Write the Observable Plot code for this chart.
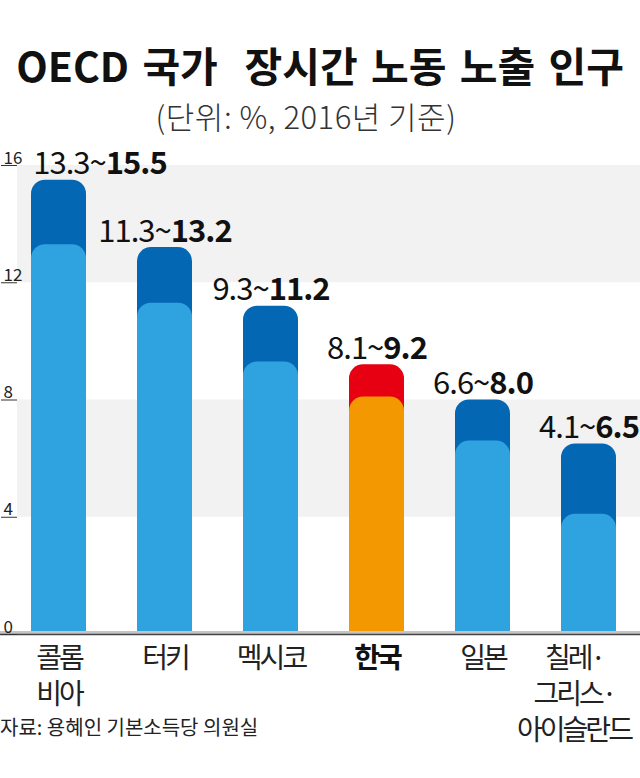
<!DOCTYPE html>
<html><head><meta charset="utf-8">
<script src="https://cdn.jsdelivr.net/npm/d3@7"></script>
<script src="https://cdn.jsdelivr.net/npm/@observablehq/plot@0.6"></script>
<style>
body{margin:0;background:#fff;font-family:"Noto Sans CJK KR","Noto Sans",sans-serif;width:640px;height:778px;position:relative;overflow:hidden}
#title{position:absolute;top:44px;left:0;width:640px;text-align:center;font-size:41px;line-height:1;font-weight:700;letter-spacing:0;word-spacing:4px;color:#111;white-space:pre;z-index:2}
#subtitle{position:absolute;top:99px;left:0;width:612px;text-align:center;font-size:31px;line-height:1.1;font-weight:300;color:#333;letter-spacing:0.5px;z-index:2}
#chart{position:absolute;top:128px;left:0;z-index:1}
#chart svg{background:transparent}
#caption{position:absolute;left:0;top:717px;font-size:20px;line-height:1;color:#222;letter-spacing:0;z-index:2}
</style>
</head><body>
<div id="title">OECD 국가  장시간 노동 노출 인구</div>
<div id="subtitle">(단위: %, 2016년 기준)</div>
<div id="chart"></div>
<div id="caption">자료: 용혜인 기본소득당 의원실</div>
<script>
const countries = ["콜롬\n비아", "터키", "멕시코", "한국", "일본", "칠레·\n그리스·\n아이슬란드"];
const lowValues = [13.3, 11.3, 9.3, 8.1, 6.6, 4.1];
const highValues = [15.5, 13.2, 11.2, 9.2, 8.0, 6.5];
const highlight = "한국";
const yTicks = [0, 4, 8, 12, 16];
const bandLows = [4, 12];
const bandHighs = [8, 16];

const colors = {low: "#2ea3df", high: "#0467b4", lowHi: "#f39800", highHi: "#e60012"};

const data = countries.map((c, i) => ({
  country: c, low: lowValues[i], high: highValues[i],
  label: `${lowValues[i].toFixed(1)}~${highValues[i].toFixed(1)}`
}));
const bands = bandLows.map((b, i) => ({y1: b, y2: bandHighs[i]}));
const font = "'Noto Sans CJK KR', 'Noto Sans', sans-serif";
const last = countries[countries.length - 1];

const catText = (filter, extra) => Plot.text(data, {filter, x: "country", text: "country", frameAnchor: "bottom",
  lineAnchor: "top", dy: 8, fontSize: 28, lineHeight: 1.29, fill: "#222", fontFamily: font, ...extra});

const chart = Plot.plot({
  width: 640,
  height: 624,
  marginTop: 37,
  marginBottom: 118,
  marginLeft: 17,
  marginRight: 0,
  style: {fontFamily: font, background: "transparent", color: "#222"},
  x: {domain: countries, range: [30, 618], paddingInner: 0.48, paddingOuter: 0, axis: null},
  y: {domain: [0, 16], axis: null},
  color: {type: "identity"},
  marks: [
    Plot.rectY(bands, {y1: "y1", y2: "y2", fill: "#f2f2f2"}),
    Plot.barY(data, {x: "country", y1: -2, y2: "high", rx: 14, clip: true,
      fill: d => d.country === highlight ? colors.highHi : colors.high}),
    Plot.barY(data, {x: "country", y1: -2, y2: "low", rx: 14, clip: true,
      fill: d => d.country === highlight ? colors.lowHi : colors.low}),
    Plot.ruleY([0], {stroke: "#c4c4c4", strokeWidth: 3, dy: -2, insetLeft: -17}),
    Plot.ruleY([0], {stroke: "#444", strokeWidth: 1.3, insetLeft: -17}),
    Plot.axisY({ticks: yTicks, tickSize: 16, tickFormat: () => "", stroke: "#333", strokeWidth: 1}),
    Plot.text(yTicks, {y: d => d, text: d => String(d), frameAnchor: "left", dx: -14, textAnchor: "start",
      lineAnchor: "bottom", dy: -2, fontSize: 17, fill: "#222", fontFamily: font}),
    Plot.text(data, {filter: (d, i) => i === 0, x: "country", y: "high", text: "label", dx: 41, dy: -6,
      lineAnchor: "bottom", fontSize: 31, fill: "#111", fontFamily: font}),
    Plot.text(data, {filter: (d, i) => i > 0, x: "country", y: "high", text: "label", dy: -6,
      lineAnchor: "bottom", fontSize: 31, fill: "#111", fontFamily: font}),
    catText(d => d.country !== highlight && d.country !== last, {}),
    catText(d => d.country === last, {dx: -15}),
    catText(d => d.country === highlight, {fill: "#111", fontWeight: "bold"})
  ]
});

// split value labels into regular + bold parts
chart.querySelectorAll("text").forEach(t => {
  const s = t.textContent;
  if (s.includes("~") && t.children.length === 0) {
    const [a, b] = s.split("~");
    t.textContent = "";
    const t1 = document.createElementNS("http://www.w3.org/2000/svg", "tspan");
    t1.textContent = a + "~";
    const t2 = document.createElementNS("http://www.w3.org/2000/svg", "tspan");
    t2.textContent = b;
    t2.setAttribute("font-weight", "bold");
    t.appendChild(t1); t.appendChild(t2);
    t.setAttribute("letter-spacing", "-1");
  }
});
chart.querySelectorAll("text").forEach(t => {
  if (/[가-힣]/.test(t.textContent)) t.setAttribute("letter-spacing", "-3");
});
document.getElementById("chart").appendChild(chart);
</script>
</body></html>
